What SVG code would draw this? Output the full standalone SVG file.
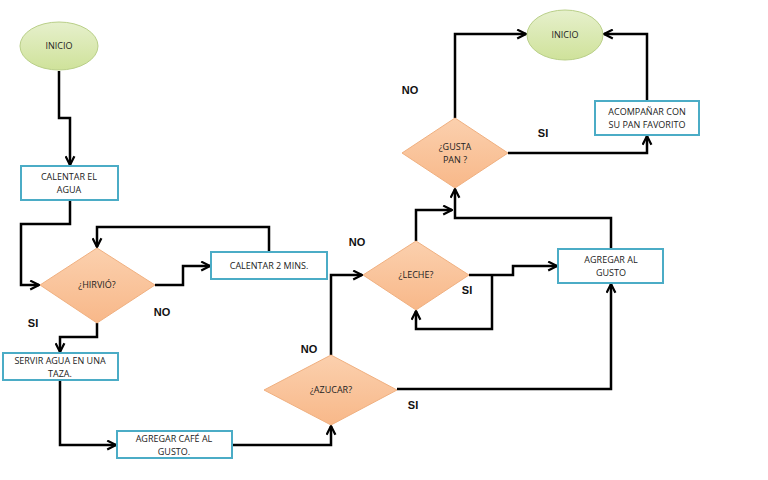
<svg xmlns="http://www.w3.org/2000/svg" width="768" height="480" viewBox="0 0 768 480">
<style>
.box{fill:#fff;stroke:#4bacc6;stroke-width:2}
.dia{fill:url(#og);stroke:#f0b080;stroke-width:1}
.ell{fill:url(#gg);stroke:#b9cf88;stroke-width:1}
.t{font-family:"Open Sans","Liberation Sans",sans-serif;font-size:9px;fill:#222;text-anchor:middle}
.lb{font-family:"Liberation Sans",sans-serif;font-size:11px;font-weight:bold;fill:#111;text-anchor:middle}
.c{fill:none;stroke:#000;stroke-width:2.5;marker-end:url(#ah)}
</style>
<defs>
<linearGradient id="og" x1="0" y1="0" x2="0" y2="1"><stop offset="0" stop-color="#fbd0ae"/><stop offset="1" stop-color="#f8b889"/></linearGradient>
<linearGradient id="gg" x1="0" y1="0" x2="0" y2="1"><stop offset="0" stop-color="#e6f0cc"/><stop offset="1" stop-color="#cfe29a"/></linearGradient>
<marker id="ah" viewBox="0 0 10 10" refX="9" refY="5" markerWidth="4.4" markerHeight="4.4" orient="auto" markerUnits="strokeWidth"><path d="M1,1 L9,5 L1,9" fill="none" stroke="#000" stroke-width="2"/></marker>
</defs>
<g id="connectors">
<path class="c" d="M59,71 V118 H70 V165"/>
<path class="c" d="M70,200 V224 H21 V285 H39"/>
<path class="c" d="M155,285 H183 V266 H210"/>
<path class="c" d="M269,252 V227 H97 V247"/>
<path class="c" d="M97,323 V337 H60 V352"/>
<path class="c" d="M60,380 V445 H116"/>
<path class="c" d="M232,445 H331 V426"/>
<path class="c" d="M331,355 V275 H362"/>
<path class="c" d="M469,275 H513 V266 H557"/>
<path class="c" d="M492,275 V329 H416 V311"/>
<path class="c" d="M397,389 H611 V284"/>
<path class="c" d="M416,241 V210 H452"/>
<path class="c" d="M611,249 V218 H455 V189"/>
<path class="c" d="M455,118 V34 H526"/>
<path class="c" d="M508,153 H647 V136"/>
<path class="c" d="M647,101 V34 H604"/>
</g>
<g id="inicio1"><ellipse class="ell" cx="59" cy="46" rx="39" ry="24"/><text class="t" x="59" y="49">INICIO</text></g>
<g id="calentar"><rect class="box" x="21" y="166" width="97" height="34"/><text class="t" x="69" y="180">CALENTAR EL</text><text class="t" x="69" y="193">AGUA</text></g>
<g id="hirvio"><polygon class="dia" points="40,285 97,248 155,285 97,323"/><text class="t" x="97" y="288">¿HIRVIÓ?</text></g>
<g id="calentar2"><rect class="box" x="211" y="252" width="116" height="27"/><text class="t" x="269" y="269">CALENTAR 2 MINS.</text></g>
<g id="servir"><rect class="box" x="3" y="353" width="115" height="27"/><text class="t" x="60" y="364">SERVIR AGUA EN UNA</text><text class="t" x="60" y="377">TAZA.</text></g>
<g id="cafe"><rect class="box" x="117" y="431" width="115" height="27"/><text class="t" x="174" y="442">AGREGAR CAFÉ AL</text><text class="t" x="174" y="455">GUSTO.</text></g>
<g id="azucar"><polygon class="dia" points="264,390 331,355 397,390 331,425"/><text class="t" x="331" y="393">¿AZUCAR?</text></g>
<g id="leche"><polygon class="dia" points="363,275 416,241 469,275 416,310"/><text class="t" x="416" y="278">¿LECHE?</text></g>
<g id="agregar"><rect class="box" x="558" y="249" width="105" height="34"/><text class="t" x="611" y="263">AGREGAR AL</text><text class="t" x="611" y="276">GUSTO</text></g>
<g id="gustapan"><polygon class="dia" points="402,153 455,118 508,153 455,188"/><text class="t" x="455" y="150">¿GUSTA</text><text class="t" x="455" y="163">PAN ?</text></g>
<g id="acompanar"><rect class="box" x="595" y="101" width="104" height="34"/><text class="t" x="647" y="115">ACOMPAÑAR CON</text><text class="t" x="647" y="128">SU PAN FAVORITO</text></g>
<g id="inicio2"><ellipse class="ell" cx="565" cy="35" rx="38" ry="25"/><text class="t" x="565" y="38">INICIO</text></g>
<g id="labels">
<text class="lb" x="162" y="316">NO</text>
<text class="lb" x="33" y="327">SI</text>
<text class="lb" x="309" y="353">NO</text>
<text class="lb" x="413" y="409">SI</text>
<text class="lb" x="357" y="246">NO</text>
<text class="lb" x="467" y="294">SI</text>
<text class="lb" x="410" y="94">NO</text>
<text class="lb" x="543" y="137">SI</text>
</g>
</svg>
